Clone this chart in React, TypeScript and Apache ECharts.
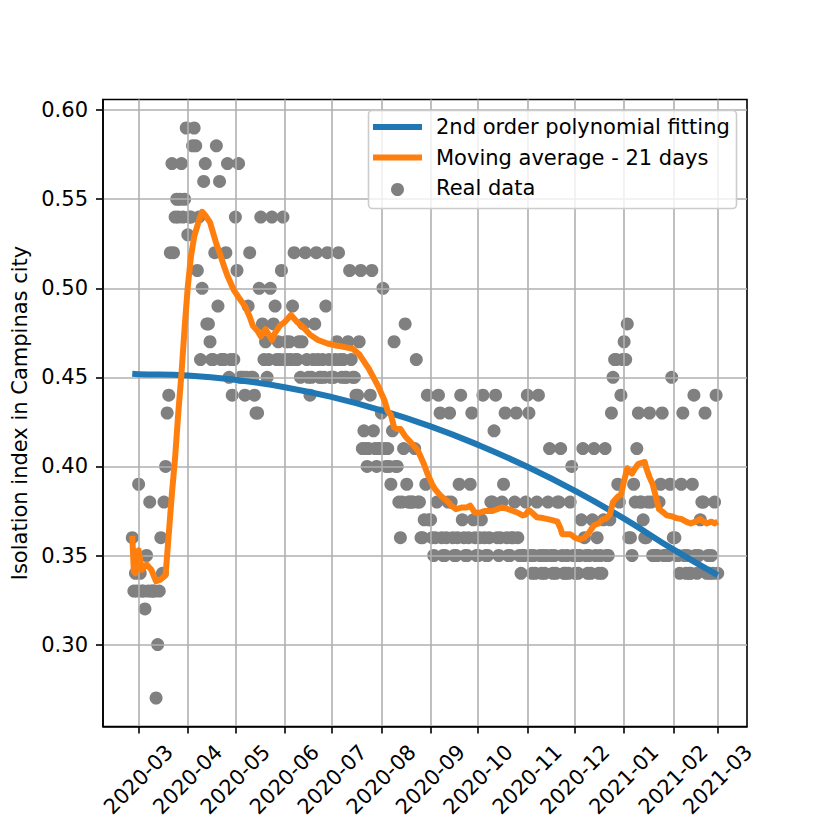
import React, { useEffect, useRef } from "react";
import * as echarts from "echarts";

// Day offsets are counted from 2020-03-01 (day 0). First reading: 2020-02-26 (day -4).
const FIRST_DAY = -4;

// Daily isolation index (hundredths), 2020-02-26 .. 2021-03-01, one row per week (Sun..Sat)
const isolationPct: number[] = [
  36, 33, 34, 33,
  39, 34, 33, 33, 32, 35, 33,
  38, 33, 33, 33, 27, 30, 33,
  36, 34, 38, 40, 43, 44, 52,
  57, 52, 54, 55, 54, 55, 57,
  54, 55, 59, 53, 54, 54, 58,
  59, 58, 51, 54, 46, 50, 56,
  57, 48, 48, 47, 46, 46, 52,
  58, 49, 56, 46, 46, 46, 52,
  57, 45, 46, 44, 46, 54, 51,
  57, 45, 45, 45, 44, 45, 49,
  52, 45, 45, 44, 43, 43, 50,
  54, 48, 46, 47, 45, 46, 50,
  54, 48, 49, 46, 47, 46, 51,
  54, 46, 47, 46, 47, 46, 49,
  52, 46, 46, 47, 45, 47, 48,
  52, 46, 45, 44, 45, 46, 48,
  52, 46, 45, 45, 46, 45, 49,
  52, 46, 45, 45, 45, 46, 47,
  52, 46, 45, 46, 45, 45, 47,
  51, 46, 45, 45, 44, 44, 47,
  51, 41, 42, 41, 40, 41, 44,
  51, 42, 41, 40, 41, 41, 43,
  50, 41, 40, 41, 40, 39, 42,
  47, 40, 40, 38, 36, 38, 41,
  48, 39, 38, 38, 38, 38, 41,
  46, 38, 38, 36, 36, 37, 39,
  44, 37, 37, 36, 35, 36, 38,
  44, 43, 36, 35, 35, 36, 38,
  43, 38, 36, 35, 35, 36, 39,
  44, 37, 36, 35, 35, 36, 39,
  43, 37, 36, 35, 35, 36, 37,
  44, 36, 35, 35, 36, 38, 38,
  42, 44, 36, 35, 36, 38, 39,
  43, 36, 35, 35, 36, 36, 38,
  43, 36, 35, 34, 35, 35, 38,
  44, 43, 35, 34, 35, 34, 38,
  44, 35, 34, 35, 34, 35, 38,
  41, 35, 34, 35, 34, 38, 38,
  41, 35, 34, 34, 35, 34, 38,
  40, 35, 34, 35, 34, 35, 37,
  41, 36, 35, 34, 35, 34, 37,
  41, 35, 36, 34, 35, 34, 37,
  41, 35, 35, 37, 43, 45, 46,
  46, 39, 38, 44, 46, 47, 46,
  48, 36, 36, 35, 39, 38, 41,
  43, 38, 38, 37, 36, 36, 38,
  43, 38, 35, 35, 35, 35, 38,
  39, 43, 35, 35, 35, 35, 39,
  45, 36, 36, 35, 35, 34, 39,
  43, 35, 34, 35, 34, 34, 39,
  44, 35, 34, 35, 37, 38, 38,
  43, 34, 35, 34, 35, 34, 38,
  44, 34,
];

// 21-day moving average
const maDays: number[] = [
  -4, -3, -2, 0, 2, 5, 8, 11, 14, 17, 19, 21, 23, 25, 27, 29, 31, 33, 35, 38, 40,
  42, 45, 47, 49, 51, 54, 56, 58, 60, 63, 67, 70, 72, 75, 77, 80, 84, 86, 89, 92,
  96, 100, 104, 108, 113, 119, 124, 130, 135, 139, 142, 145, 148, 151, 153, 155,
  157, 159, 161, 163, 165, 168, 171, 173, 176, 178, 180, 182, 185, 187, 189, 191,
  194, 197, 200, 204, 207, 209, 212, 215, 218, 223, 226, 229, 233, 236, 239, 242,
  244, 246, 248, 251, 255, 260, 264, 266, 267, 272, 275, 278, 281, 284, 287, 290,
  292, 295, 297, 299, 302, 304, 306, 308, 310, 311, 313, 315, 317, 319, 320, 322,
  324, 326, 328, 331, 333, 336, 339, 342, 345, 348, 351, 354, 356, 358, 361, 363, 365,
];
const maValues: number[] = [
  0.361, 0.341, 0.34, 0.353, 0.342, 0.345, 0.342, 0.3355, 0.3366, 0.339, 0.362,
  0.385, 0.405, 0.43, 0.452, 0.478, 0.501, 0.518, 0.529, 0.538, 0.543,
  0.541, 0.537, 0.531, 0.525, 0.52, 0.512, 0.507, 0.503, 0.499, 0.495, 0.49,
  0.484, 0.479, 0.476, 0.473, 0.477, 0.471, 0.475, 0.479, 0.481,
  0.485, 0.481, 0.478, 0.474, 0.471, 0.469, 0.468, 0.467, 0.466, 0.463, 0.459,
  0.455, 0.45, 0.445, 0.441, 0.437,
  0.431, 0.429, 0.422, 0.421, 0.421, 0.417, 0.414, 0.412, 0.409, 0.405, 0.401,
  0.396, 0.39, 0.387, 0.385, 0.383,
  0.381, 0.378, 0.376, 0.377, 0.377, 0.378, 0.374, 0.374, 0.375, 0.375, 0.376,
  0.377, 0.376, 0.375, 0.374, 0.3725,
  0.373, 0.3755, 0.374, 0.3715, 0.371, 0.37, 0.369, 0.365, 0.362, 0.362, 0.36,
  0.359, 0.36, 0.363, 0.367, 0.368,
  0.37, 0.371, 0.373, 0.38, 0.383, 0.384, 0.392, 0.399, 0.397, 0.396, 0.399,
  0.4015, 0.402, 0.4025, 0.399, 0.394,
  0.39, 0.383, 0.376, 0.374, 0.3725, 0.372, 0.371, 0.3705, 0.369, 0.368, 0.369,
  0.3705, 0.369, 0.368, 0.369, 0.368, 0.369,
];

// 2nd order polynomial fitting
const polyDays: number[] = [-4, 0, 31, 61, 92, 122, 153, 184, 214, 245, 275, 306, 337, 365];
const polyValues: number[] = [
  0.452, 0.4518, 0.451, 0.4486, 0.4445, 0.4389, 0.4315, 0.4225, 0.4121, 0.3998,
  0.3863, 0.3707, 0.3534, 0.339,
];

const monthTickDays: number[] = [0, 31, 61, 92, 122, 153, 184, 214, 245, 275, 306, 337, 365];
const monthTickLabels: string[] = [
  "2020-03", "2020-04", "2020-05", "2020-06", "2020-07", "2020-08", "2020-09",
  "2020-10", "2020-11", "2020-12", "2021-01", "2021-02", "2021-03",
];
const yTickValues: number[] = [0.3, 0.35, 0.4, 0.45, 0.5, 0.55, 0.6];

const legendLabels: string[] = [
  "2nd order polynomial fitting",
  "Moving average - 21 days",
  "Real data",
];
const yAxisTitle = "Isolation index in Campinas city";

const FONT = "DejaVu Sans";
const FONT_SIZE = 21;
const BLUE = "#1f77b4";
const ORANGE = "#ff7f0e";
const GRAY = "#808080";

export default function App() {
  const ref = useRef<HTMLDivElement>(null);

  useEffect(() => {
    document.body.style.margin = "0";
    if (!ref.current) return;
    const chart = echarts.init(ref.current, null, { renderer: "svg" });

    const scatterData = isolationPct.map((v, i) => [i + FIRST_DAY, v / 100]);
    const maData = maDays.map((d, i) => [d, maValues[i]]);
    const polyData = polyDays.map((d, i) => [d, polyValues[i]]);

    const gridLine = { show: true, lineStyle: { color: "#b0b0b0", width: 1.6 } };
    const tickStyle = { color: "#000", width: 1.6 };

    const option: any = {
      animation: false,
      backgroundColor: "#ffffff",
      grid: {
        left: 103,
        right: 83,
        top: 99.5,
        bottom: 103.5,
        show: true,
        borderColor: "#000",
        borderWidth: 1.6,
        backgroundColor: "transparent",
        containLabel: false,
      },
      xAxis: {
        type: "value",
        min: -22.45,
        max: 383.45,
        z: 1.5,
        axisLine: { show: true, onZero: false, lineStyle: { color: "#000", width: 1.6 } },
        axisTick: {
          show: true,
          inside: false,
          length: 7,
          customValues: monthTickDays,
          lineStyle: tickStyle,
        },
        axisLabel: {
          show: true,
          customValues: monthTickDays,
          formatter: (v: number) => {
            const idx = monthTickDays.indexOf(Math.round(v));
            return idx >= 0 ? monthTickLabels[idx] : "";
          },
          rotate: 45,
          margin: 53,
          align: "center",
          verticalAlign: "middle",
          color: "#000",
          fontSize: FONT_SIZE,
          fontFamily: FONT,
        },
        splitLine: gridLine,
      },
      yAxis: {
        type: "value",
        min: 0.254,
        max: 0.606,
        z: 1.5,
        name: yAxisTitle,
        nameLocation: "middle",
        nameGap: 66,
        nameTextStyle: { color: "#000", fontSize: FONT_SIZE, fontFamily: FONT },
        axisLine: { show: true, onZero: false, lineStyle: { color: "#000", width: 1.6 } },
        axisTick: {
          show: true,
          inside: false,
          length: 7,
          customValues: yTickValues,
          lineStyle: tickStyle,
        },
        axisLabel: {
          show: true,
          customValues: yTickValues,
          formatter: (v: number) => v.toFixed(2),
          margin: 15,
          color: "#000",
          fontSize: FONT_SIZE,
          fontFamily: FONT,
        },
        splitLine: gridLine,
      },
      series: [
        {
          name: legendLabels[2],
          type: "scatter",
          data: scatterData,
          symbol: "circle",
          symbolSize: 13,
          itemStyle: { color: GRAY, opacity: 1 },
          z: 1,
          silent: true,
        },
        {
          name: legendLabels[0],
          type: "line",
          data: polyData,
          smooth: true,
          showSymbol: false,
          symbol: "none",
          lineStyle: { color: BLUE, width: 6 },
          z: 3,
          silent: true,
        },
        {
          name: legendLabels[1],
          type: "line",
          data: maData,
          smooth: false,
          showSymbol: false,
          symbol: "none",
          lineStyle: { color: ORANGE, width: 6, join: "round" },
          z: 4,
          silent: true,
        },
      ],
      graphic: [
        {
          type: "rect",
          z: 100,
          shape: { x: 368.5, y: 110.5, width: 368, height: 98, r: 4 },
          style: { fill: "rgba(255,255,255,0.8)", stroke: "#cccccc", lineWidth: 1.6 },
        },
        {
          type: "line",
          z: 101,
          shape: { x1: 373, y1: 127, x2: 422, y2: 127 },
          style: { stroke: BLUE, lineWidth: 6 },
        },
        {
          type: "line",
          z: 101,
          shape: { x1: 373, y1: 157.5, x2: 422, y2: 157.5 },
          style: { stroke: ORANGE, lineWidth: 6 },
        },
        {
          type: "circle",
          z: 101,
          shape: { cx: 397.5, cy: 189.5, r: 6.5 },
          style: { fill: GRAY },
        },
        ...legendLabels.map((t, i) => ({
          type: "text",
          z: 101,
          x: 436,
          y: [127, 157.5, 188][i],
          style: {
            text: t,
            fill: "#000",
            fontSize: FONT_SIZE,
            fontFamily: FONT,
            align: "left",
            verticalAlign: "middle",
          },
        })),
      ],
    };

    chart.setOption(option);
    return () => chart.dispose();
  }, []);

  return <div ref={ref} style={{ width: 830, height: 830, background: "#fff" }} />;
}
